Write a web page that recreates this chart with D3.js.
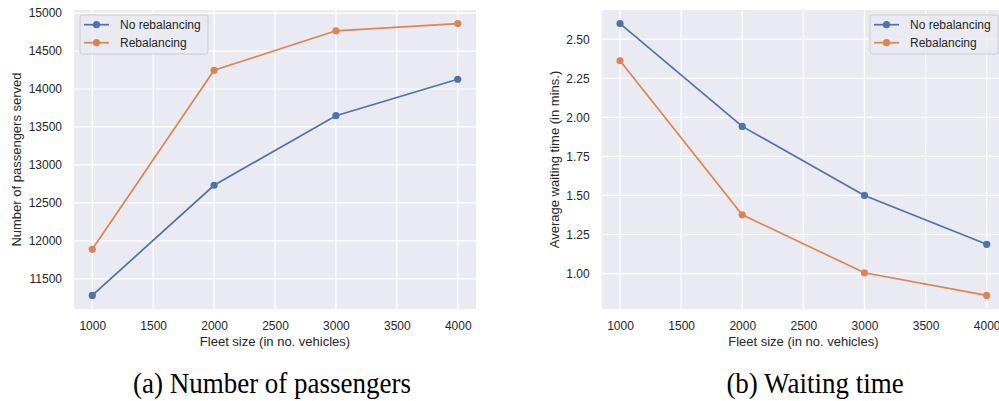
<!DOCTYPE html>
<html>
<head>
<meta charset="utf-8">
<script src="https://cdn.jsdelivr.net/npm/d3@7"></script>
<style>
  html, body { margin: 0; padding: 0; background: #ffffff; }
  svg { display: block; }
</style>
</head>
<body>
<svg id="chart" width="999" height="401"></svg>
<script>
// ---- data ----
const fleetSizes = [1000, 2000, 3000, 4000];
const xTicks = [1000, 1500, 2000, 2500, 3000, 3500, 4000];
const seriesNames = ["No rebalancing", "Rebalancing"];
const passengersNoReb = [11281, 12732, 13649, 14129];
const passengersReb = [11888, 14247, 14767, 14862];
const passengerTicks = [11500, 12000, 12500, 13000, 13500, 14000, 14500, 15000];
const waitNoReb = [2.60, 1.942, 1.50, 1.187];
const waitReb = [2.362, 1.376, 1.005, 0.86];
const waitTicks = [1.00, 1.25, 1.50, 1.75, 2.00, 2.25, 2.50];
const xLabel = "Fleet size (in no. vehicles)";
const captions = ["(a) Number of passengers", "(b) Waiting time"];

const colors = ["#4C72B0", "#DD8452"];
const svg = d3.select("#chart");
const FONT = "'Liberation Sans', Arial, sans-serif";
const TXT = "#262626";

function panel(opts) {
  const { left, right, top, bottom, series, yTicks, yFmt, yLabel, yLabelX, legendX, legendRight, caption, capX } = opts;
  const allVals = series.flat();
  const ymin = d3.min(allVals), ymax = d3.max(allVals);
  const ypad = (ymax - ymin) * 0.05;
  const xmin = d3.min(fleetSizes), xmax = d3.max(fleetSizes);
  const xpad = (xmax - xmin) * 0.05;
  const x = d3.scaleLinear().domain([xmin - xpad, xmax + xpad]).range([left, right]);
  const y = d3.scaleLinear().domain([ymin - ypad, ymax + ypad]).range([bottom, top]);

  const g = svg.append("g");
  g.append("rect").attr("x", left).attr("y", top)
    .attr("width", right - left).attr("height", bottom - top)
    .attr("fill", "#EAEAF2");

  // grid
  g.selectAll(".vg").data(xTicks).enter().append("line")
    .attr("x1", d => x(d)).attr("x2", d => x(d))
    .attr("y1", top).attr("y2", bottom)
    .attr("stroke", "#ffffff").attr("stroke-width", 1.2);
  g.selectAll(".hg").data(yTicks).enter().append("line")
    .attr("x1", left).attr("x2", right)
    .attr("y1", d => y(d)).attr("y2", d => y(d))
    .attr("stroke", "#ffffff").attr("stroke-width", 1.2);

  // axes via d3 axis
  const xAxis = d3.axisBottom(x).tickValues(xTicks).tickSize(0).tickPadding(12).tickFormat(d3.format("d"));
  const xg = g.append("g").attr("transform", `translate(0,${bottom})`).call(xAxis);
  const yAxis = d3.axisLeft(y).tickValues(yTicks).tickSize(0).tickPadding(12).tickFormat(yFmt);
  const yg = g.append("g").attr("transform", `translate(${left},0)`).call(yAxis);
  [xg, yg].forEach(a => {
    a.select(".domain").remove();
    a.selectAll("text").attr("font-family", FONT).attr("font-size", 12).attr("fill", TXT);
  });

  // lines
  const line = d3.line().x((d, i) => x(fleetSizes[i])).y(d => y(d));
  series.forEach((s, k) => {
    g.append("path").datum(s).attr("d", line)
      .attr("fill", "none").attr("stroke", colors[k]).attr("stroke-width", 1.7);
    g.selectAll(".m" + k).data(s).enter().append("circle")
      .attr("cx", (d, i) => x(fleetSizes[i])).attr("cy", d => y(d))
      .attr("r", 3.6).attr("fill", colors[k]);
  });

  // axis labels
  g.append("text").attr("x", (left + right) / 2).attr("y", 346)
    .attr("text-anchor", "middle").attr("font-family", FONT).attr("font-size", 13)
    .attr("fill", TXT).text(xLabel);
  g.append("text")
    .attr("transform", `translate(${yLabelX},${(top + bottom) / 2}) rotate(-90)`)
    .attr("text-anchor", "middle").attr("font-family", FONT).attr("font-size", 13)
    .attr("fill", TXT).text(yLabel);

  // legend
  const lw = legendRight - legendX;
  const lg = g.append("g");
  lg.append("rect").attr("x", legendX).attr("y", 15).attr("width", lw).attr("height", 39)
    .attr("rx", 2.5).attr("fill", "#EAEAF2").attr("fill-opacity", 0.8)
    .attr("stroke", "#cccccc").attr("stroke-width", 1);
  seriesNames.forEach((n, k) => {
    const cy = 24.7 + k * 18;
    lg.append("line").attr("x1", legendX + 4).attr("x2", legendX + 29)
      .attr("y1", cy).attr("y2", cy).attr("stroke", colors[k]).attr("stroke-width", 1.7);
    lg.append("circle").attr("cx", legendX + 16.5).attr("cy", cy).attr("r", 3.6).attr("fill", colors[k]);
    lg.append("text").attr("x", legendX + 40).attr("y", cy).attr("dy", "0.35em")
      .attr("font-family", FONT).attr("font-size", 12).attr("fill", TXT).text(n);
  });

  // caption
  svg.append("text")
    .attr("transform", `translate(${capX},393) scale(1,1.1)`)
    .attr("text-anchor", "middle").attr("font-family", "'Liberation Serif', 'Times New Roman', serif")
    .attr("font-size", 27).attr("fill", "#000").text(caption);
}

panel({
  left: 74, right: 476, top: 10, bottom: 309,
  series: [passengersNoReb, passengersReb],
  yTicks: passengerTicks, yFmt: d3.format("d"),
  yLabel: "Number of passengers served", yLabelX: 20.5,
  legendX: 80, legendRight: 208,
  caption: captions[0], capX: 272
});
panel({
  left: 601.7, right: 1005, top: 10, bottom: 309,
  series: [waitNoReb, waitReb],
  yTicks: waitTicks, yFmt: d3.format(".2f"),
  yLabel: "Average waiting time (in mins.)", yLabelX: 558.7,
  legendX: 870, legendRight: 998,
  caption: captions[1], capX: 815
});
</script>
</body>
</html>
